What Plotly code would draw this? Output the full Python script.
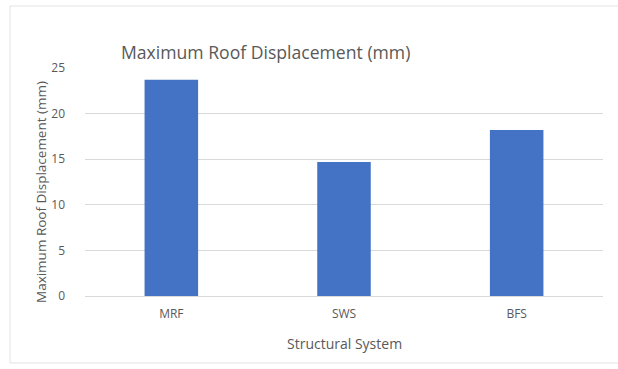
import plotly.graph_objects as go

categories = ["MRF", "SWS", "BFS"]
values = [23.7, 14.7, 18.2]
y_ticks = [0, 5, 10, 15, 20, 25]

W, H = 618, 369
L, R, T, B = 85, 15, 68, 73
pw, ph = W - L - R, H - T - B

def px(x):
    return (x - L) / pw

def py(y):
    return (H - B - y) / ph

txt = "#595959"
font = "Open Sans"

fig = go.Figure(go.Bar(x=categories, y=values, marker_color="#4472C4",
                       marker_line_width=0, width=0.31))

fig.update_layout(
    width=W, height=H, margin=dict(l=L, r=R, t=T, b=B),
    paper_bgcolor="white", plot_bgcolor="white",
    font=dict(family=font, color=txt, size=11),
    showlegend=False,
    xaxis=dict(showgrid=False, showline=True, linecolor="#D9D9D9", linewidth=1,
               ticks="", ticklabelstandoff=7, tickfont=dict(size=12, color=txt)),
    yaxis=dict(range=[0, 25], tickvals=y_ticks, showgrid=True, gridcolor="#D9D9D9",
               gridwidth=1, zeroline=False, showline=False, ticks="",
               ticklabelstandoff=19, tickfont=dict(size=12, color=txt)),
    shapes=[dict(type="rect", xref="paper", yref="paper",
                 x0=px(10), x1=px(625), y0=py(363), y1=py(6),
                 line=dict(color="#E3E3E3", width=1), fillcolor="rgba(0,0,0,0)", layer="below")],
    annotations=[
        dict(text="Maximum Roof Displacement (mm)", xref="paper", yref="paper",
             x=px(265), y=py(52), xanchor="center", yanchor="middle",
             showarrow=False, font=dict(size=17.6, color=txt, family=font)),
        dict(text="Maximum Roof Displacement (mm)", xref="paper", yref="paper",
             x=px(41), y=py(192), xanchor="center", yanchor="middle", textangle=-90,
             showarrow=False, font=dict(size=13.5, color=txt, family=font)),
        dict(text="Structural System", xref="paper", yref="paper",
             x=px(344), y=py(343), xanchor="center", yanchor="middle",
             showarrow=False, font=dict(size=14, color=txt, family=font)),
    ],
)

fig.write_html("out.html")
